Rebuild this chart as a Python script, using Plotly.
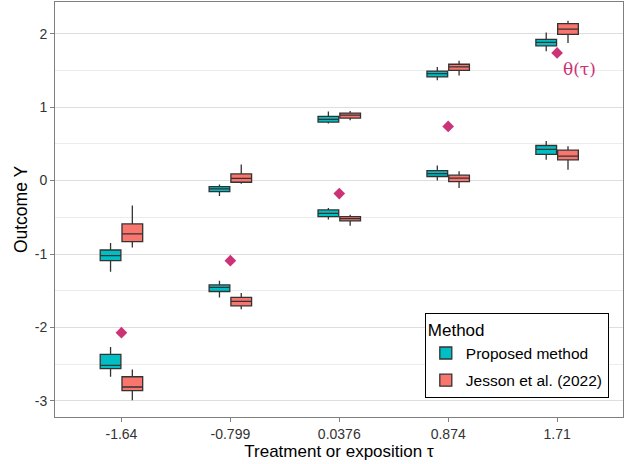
import plotly.graph_objects as go

categories = ["-1.64", "-0.799", "0.0376", "0.874", "1.71"]
y_tickvals = [-3, -2, -1, 0, 1, 2]
y_ticktext = ["-3", "-2", "-1", "0", "1", "2"]

# Proposed method - upper bound boxes
prop_up_low = [-1.24, -0.21, 0.777, 1.364, 1.76]
prop_up_q1 = [-1.09, -0.15, 0.796, 1.41, 1.834]
prop_up_med = [-1.023, -0.114, 0.832, 1.455, 1.88]
prop_up_q3 = [-0.945, -0.082, 0.873, 1.49, 1.92]
prop_up_high = [-0.85, -0.055, 0.94, 1.546, 2.015]
# Proposed method - lower bound boxes
prop_lo_low = [-2.67, -1.59, -0.53, 0.0, 0.282]
prop_lo_q1 = [-2.56, -1.51, -0.49, 0.055, 0.355]
prop_lo_med = [-2.515, -1.455, -0.446, 0.095, 0.423]
prop_lo_q3 = [-2.365, -1.42, -0.40, 0.136, 0.477]
prop_lo_high = [-2.265, -1.364, -0.373, 0.205, 0.537]
# Jesson et al. (2022) - upper bound boxes
jes_up_low = [-0.91, -0.045, 0.82, 1.428, 1.873]
jes_up_q1 = [-0.83, -0.023, 0.85, 1.50, 1.99]
jes_up_med = [-0.727, 0.03, 0.891, 1.546, 2.06]
jes_up_q3 = [-0.59, 0.09, 0.918, 1.583, 2.137]
jes_up_high = [-0.34, 0.218, 0.945, 1.63, 2.174]
# Jesson et al. (2022) - lower bound boxes
jes_lo_low = [-2.99, -1.75, -0.614, -0.10, 0.146]
jes_lo_q1 = [-2.86, -1.705, -0.55, -0.014, 0.282]
jes_lo_med = [-2.81, -1.645, -0.518, 0.032, 0.332]
jes_lo_q3 = [-2.67, -1.59, -0.49, 0.073, 0.414]
jes_lo_high = [-2.57, -1.53, -0.464, 0.127, 0.468]
# true theta(tau)
theta = [-2.07, -1.09, -0.177, 0.737, 1.737]

TEAL = "#00BFC4"
RED = "#F8766D"
MAG = "#CC3377"
OUT = "#333333"

fig = go.Figure()

def add_box(name, color, group, low, q1, med, q3, high, show):
    fig.add_trace(go.Box(
        x=categories, lowerfence=low, q1=q1, median=med, q3=q3, upperfence=high,
        name=name, legendgroup=group, offsetgroup=group, showlegend=show,
        fillcolor=color, line=dict(color=OUT, width=1.3), whiskerwidth=0,
        boxpoints=False, hoverinfo="skip"))

add_box("Proposed method", TEAL, "prop", prop_up_low, prop_up_q1, prop_up_med, prop_up_q3, prop_up_high, True)
add_box("Proposed method", TEAL, "prop", prop_lo_low, prop_lo_q1, prop_lo_med, prop_lo_q3, prop_lo_high, False)
add_box("Jesson et al. (2022)", RED, "jes", jes_up_low, jes_up_q1, jes_up_med, jes_up_q3, jes_up_high, True)
add_box("Jesson et al. (2022)", RED, "jes", jes_lo_low, jes_lo_q1, jes_lo_med, jes_lo_q3, jes_lo_high, False)

fig.add_trace(go.Scatter(
    x=categories, y=theta, mode="markers", showlegend=False,
    marker=dict(symbol="diamond", size=9, color=MAG), hoverinfo="skip"))

fig.add_annotation(x=len(categories) - 1, y=theta[-1], text="θ(τ)", showarrow=False,
                   xshift=22, yshift=-16, font=dict(family="DejaVu Serif", size=17, color=MAG))

fig.update_layout(
    width=628, height=464,
    margin=dict(l=55, r=5, t=2, b=47),
    paper_bgcolor="white", plot_bgcolor="white",
    boxmode="group", boxgap=0.6, boxgroupgap=0.05,
    font=dict(family="Liberation Sans, Arial, sans-serif", color="#000000"),
    legend=dict(
        title=dict(text="Method", font=dict(size=17, color="#000")),
        x=0.975, y=0.045, xanchor="right", yanchor="bottom",
        bordercolor="#000000", borderwidth=1, bgcolor="white",
        font=dict(size=15.5, color="#000"), tracegroupgap=4,
    ),
)

fig.update_xaxes(
    type="category", range=[-0.61, 4.605], automargin=False,
    showgrid=False, showline=True, mirror=True, linecolor="#7f7f7f", linewidth=1,
    ticks="outside", ticklen=4, tickcolor="#7f7f7f",
    tickfont=dict(size=14, color="#333333"),
    title=dict(text="Treatment or exposition τ", font=dict(size=17, color="#000"), standoff=4),
)
fig.update_yaxes(
    range=[-3.218, 2.43], tickmode="array", tickvals=y_tickvals, ticktext=y_ticktext,
    automargin=False,
    showgrid=True, gridcolor="#dedede", gridwidth=1,
    minor=dict(tickmode="array", tickvals=[-2.5, -1.5, -0.5, 0.5, 1.5], showgrid=True,
               gridcolor="#ececec", gridwidth=0.6),
    zeroline=False,
    showline=True, mirror=True, linecolor="#7f7f7f", linewidth=1,
    ticks="outside", ticklen=4, tickcolor="#7f7f7f",
    tickfont=dict(size=14, color="#333333"),
    title=dict(text="Outcome Y", font=dict(size=17.5, color="#000"), standoff=2),
)

fig.write_html("out.html", config={"displayModeBar": False},
               post_script="document.body.style.margin='0';")
